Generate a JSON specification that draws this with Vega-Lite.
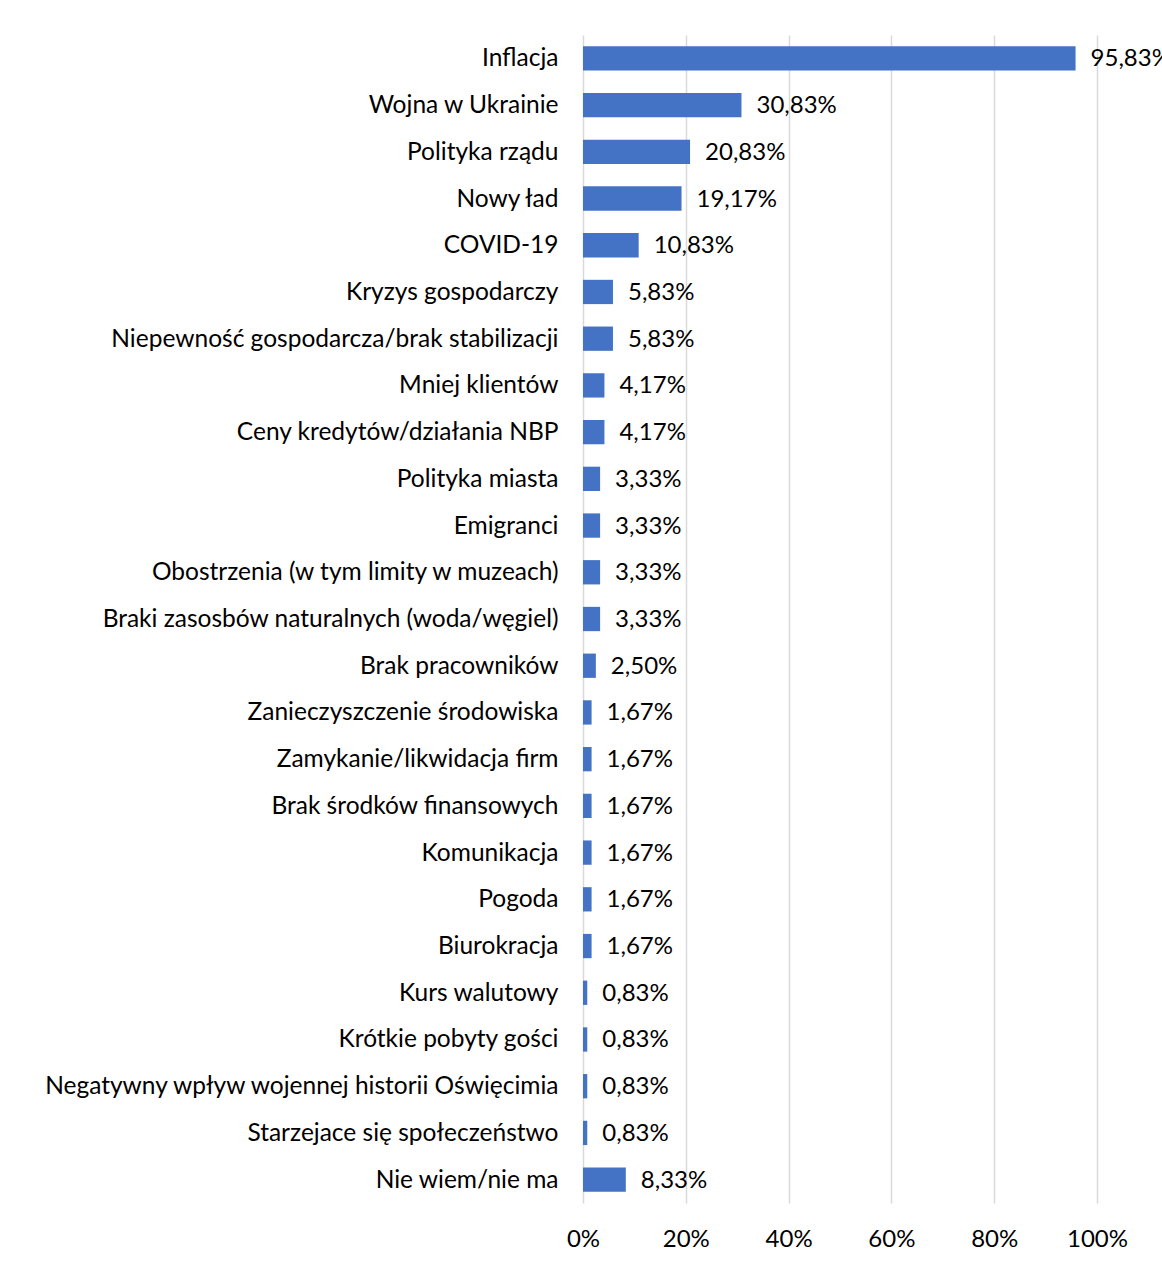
{
  "$schema": "https://vega.github.io/schema/vega-lite/v6.json",
  "width": 514,
  "height": 1168,
  "autosize": "none",
  "padding": {"left": 583, "top": 35, "right": 65, "bottom": 58},
  "background": "white",
  "config": {
    "locale": {"number": {"decimal": ",", "thousands": " ", "grouping": [3], "currency": ["", " zł"]}},
    "view": {"stroke": null},
    "font": "Lato"
  },
  "data": {
    "values": [
      {"kategoria": "Inflacja", "wartosc": 0.9583},
      {"kategoria": "Wojna w Ukrainie", "wartosc": 0.3083},
      {"kategoria": "Polityka rządu", "wartosc": 0.2083},
      {"kategoria": "Nowy ład", "wartosc": 0.1917},
      {"kategoria": "COVID-19", "wartosc": 0.1083},
      {"kategoria": "Kryzys gospodarczy", "wartosc": 0.0583},
      {"kategoria": "Niepewność gospodarcza/brak stabilizacji", "wartosc": 0.0583},
      {"kategoria": "Mniej klientów", "wartosc": 0.0417},
      {"kategoria": "Ceny kredytów/działania NBP", "wartosc": 0.0417},
      {"kategoria": "Polityka miasta", "wartosc": 0.0333},
      {"kategoria": "Emigranci", "wartosc": 0.0333},
      {"kategoria": "Obostrzenia (w tym limity w muzeach)", "wartosc": 0.0333},
      {"kategoria": "Braki zasosbów naturalnych (woda/węgiel)", "wartosc": 0.0333},
      {"kategoria": "Brak pracowników", "wartosc": 0.025},
      {"kategoria": "Zanieczyszczenie środowiska", "wartosc": 0.0167},
      {"kategoria": "Zamykanie/likwidacja firm", "wartosc": 0.0167},
      {"kategoria": "Brak środków finansowych", "wartosc": 0.0167},
      {"kategoria": "Komunikacja", "wartosc": 0.0167},
      {"kategoria": "Pogoda", "wartosc": 0.0167},
      {"kategoria": "Biurokracja", "wartosc": 0.0167},
      {"kategoria": "Kurs walutowy", "wartosc": 0.0083},
      {"kategoria": "Krótkie pobyty gości", "wartosc": 0.0083},
      {"kategoria": "Negatywny wpływ wojennej historii Oświęcimia", "wartosc": 0.0083},
      {"kategoria": "Starzejace się społeczeństwo", "wartosc": 0.0083},
      {"kategoria": "Nie wiem/nie ma", "wartosc": 0.0833}
    ]
  },
  "encoding": {
    "y": {
      "field": "kategoria",
      "type": "nominal",
      "sort": null,
      "scale": {"paddingInner": 0.48, "paddingOuter": 0.24},
      "axis": {
        "title": null,
        "ticks": false,
        "domain": false,
        "labelFontSize": 24.5,
        "labelColor": "#000000",
        "labelPadding": 25,
        "labelLimit": 0,
        "labelOffset": 1
      }
    },
    "x": {
      "field": "wartosc",
      "type": "quantitative",
      "scale": {"domain": [0, 1], "nice": false},
      "axis": {
        "title": null,
        "format": ".0%",
        "values": [0, 0.2, 0.4, 0.6, 0.8, 1],
        "ticks": false,
        "domain": false,
        "grid": true,
        "gridColor": "#d9d9d9",
        "gridWidth": 1.5,
        "labelFlush": false,
        "labelFontSize": 24,
        "labelColor": "#000000",
        "labelPadding": 24
      }
    }
  },
  "layer": [
    {"mark": {"type": "bar", "color": "#4472C4"}},
    {
      "mark": {"type": "text", "align": "left", "baseline": "middle", "dx": 15, "dy": 1, "fontSize": 24, "color": "#000000"},
      "encoding": {"text": {"field": "wartosc", "type": "quantitative", "format": ".2%"}}
    }
  ]
}
